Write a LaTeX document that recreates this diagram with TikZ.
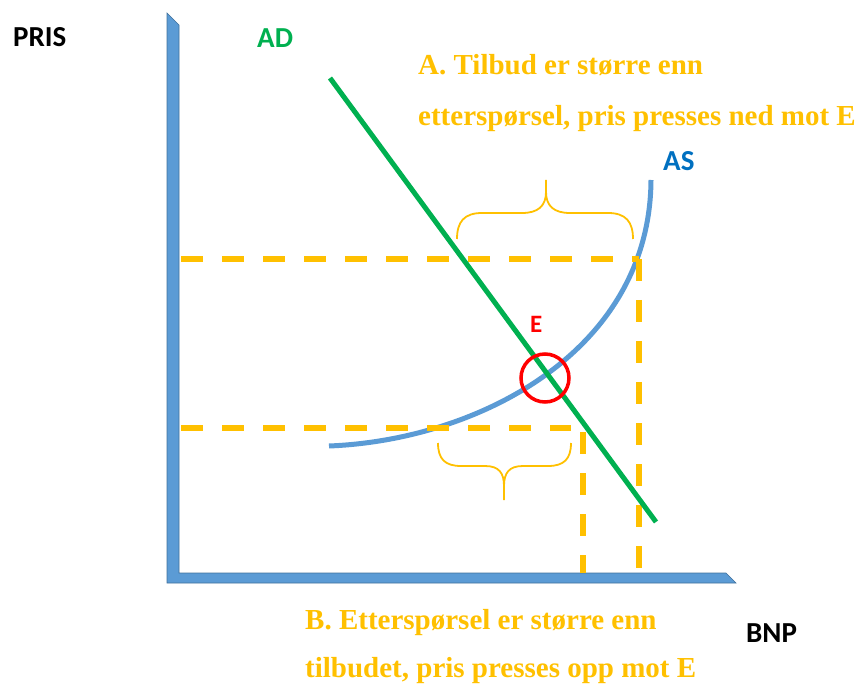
\documentclass[tikz,border=0pt]{standalone}
\usepackage{fontspec}
\setmainfont{Liberation Serif}
\newfontfamily\labfont{Carlito}
\definecolor{axisblue}{HTML}{5B9BD5}
\definecolor{axisedge}{HTML}{41719C}
\definecolor{gold}{HTML}{FFC000}
\definecolor{adgreen}{HTML}{00B050}
\definecolor{asblue}{HTML}{0070C0}
\definecolor{ered}{HTML}{FF0000}
\begin{document}
\begin{tikzpicture}[x=1pt,y=-1pt,
  guide/.style={draw=gold,line width=5.5pt,dash pattern=on 22pt off 19pt,line cap=butt},
  bracepath/.style={draw=gold,line width=1.8pt},
  adline/.style={draw=adgreen,line width=5pt},
  ascurve/.style={draw=axisblue,line width=5pt},
  lab/.style={font=\labfont\bfseries\fontsize{29}{34}\selectfont,inner sep=0pt,anchor=base west},
  note/.style={font=\bfseries\fontsize{29}{34}\selectfont,text=gold,inner sep=0pt,anchor=base west}]
\useasboundingbox (0,0) rectangle (862,684);
% axes
\fill[axisblue,draw=axisedge,line width=0.6pt] (167,13) -- (179,25) -- (179,573) -- (726,573) -- (736,583) -- (167,583) -- cycle;
% coordinates
\coordinate (uh1) at (181,259);
\coordinate (uh2) at (639,259);
\coordinate (uv2) at (639,572);
\coordinate (lh1) at (181,428);
\coordinate (lh2) at (571,428);
\coordinate (lv1) at (583,432);
\coordinate (lv2) at (583,573);
\coordinate (ad1) at (330,78);
\coordinate (ad2) at (656,522);
\coordinate (as1) at (329,446);
\coordinate (as2) at (651,180);
% AS curve
\draw[ascurve] (as1) .. controls (480,440) and (650,350) .. (as2);
% dashed guides
\draw[guide] (uh1) -- (uh2);
\draw[guide] (uh2) -- (uv2);
\draw[guide] (lh1) -- (lh2);
\draw[guide] (lv1) -- (lv2);
% AD line
\draw[adline] (ad1) -- (ad2);
% equilibrium circle
\node[draw=ered,line width=3.5pt,circle,minimum size=48pt,inner sep=0pt] (eq) at (545,378) {};
% upper brace
\draw[bracepath] (457,239) .. controls (457,222) and (464,213) .. (482,213) -- (522,213)
  .. controls (538,213) and (546,206) .. (546,192) -- (546,180);
\draw[bracepath] (633,239) .. controls (633,222) and (626,213) .. (608,213) -- (570,213)
  .. controls (554,213) and (546,206) .. (546,192);
% lower brace
\draw[bracepath] (438,443) .. controls (438,459) and (445,466) .. (461,466) -- (485,466)
  .. controls (499,466) and (504,473) .. (504,486) -- (504,500);
\draw[bracepath] (571,443) .. controls (571,459) and (564,466) .. (548,466) -- (523,466)
  .. controls (509,466) and (504,473) .. (504,486);
% labels
\node[lab] (pris) at (13,47) {PRIS};
\node[lab,text=adgreen] (adlab) at (257,48) {AD};
\node[lab,text=asblue] (aslab) at (663,171) {AS};
\node[lab] (bnp) at (746,642) {BNP};
\node[lab,text=ered,font=\labfont\bfseries\fontsize{25}{30}\selectfont] (elab) at (530,333) {E};
\node[note] (a1) at (418,75) {A. Tilbud er større enn};
\node[note] (a2) at (418,126) {etterspørsel, pris presses ned mot E};
\node[note] (b1) at (305,629) {B. Etterspørsel er større enn};
\node[note] (b2) at (305,677) {tilbudet, pris presses opp mot E};
\end{tikzpicture}
\end{document}
